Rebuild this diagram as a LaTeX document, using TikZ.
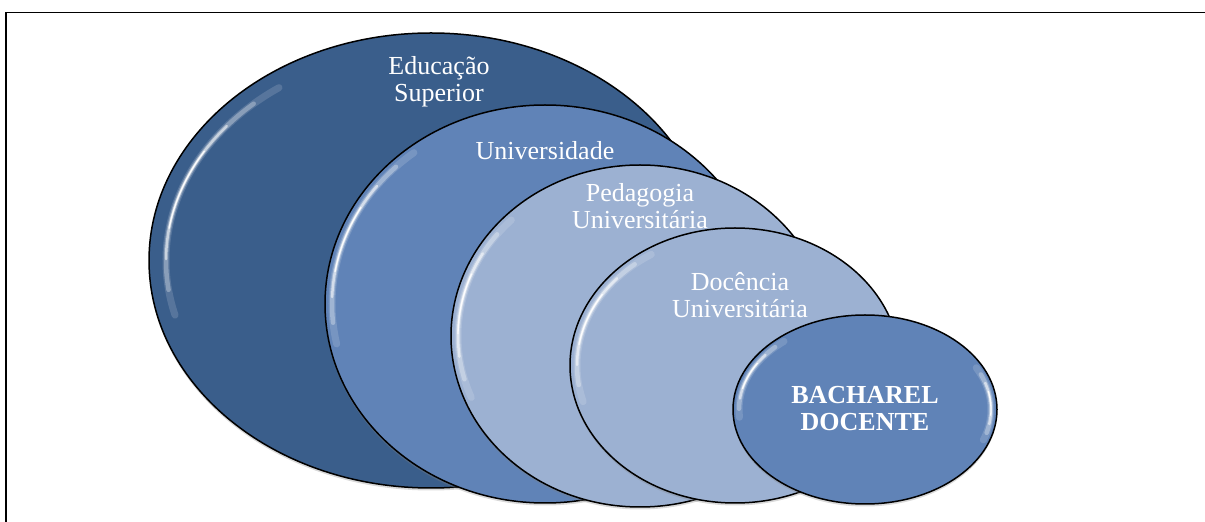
\documentclass[tikz,border=0pt]{standalone}
\usepackage{fontspec}
\setmainfont{Liberation Serif}
\usetikzlibrary{shapes.geometric,shadows,calc}

\definecolor{azulEsc}{HTML}{3A5E8B}
\definecolor{azulMed}{HTML}{6083B7}
\definecolor{azulCla}{HTML}{9CB1D2}

% brilho: node, raio x, raio y, angulo inicial, angulo final
\newcommand{\brilho}[5]{%
  \foreach \f/\w/\o in {0/7/.15, .1/4.5/.3, .22/2.5/.55, .34/1.3/.95}{%
    \pgfmathsetmacro{\ini}{(#4)+\f*((#5)-(#4))}%
    \pgfmathsetmacro{\fim}{(#5)-\f*((#5)-(#4))}%
    \draw[white, line width=\w pt, opacity=\o, line cap=round]
      ($(#1.center)+(\ini:#2pt and #3pt)$) arc[start angle=\ini, end angle=\fim, x radius=#2pt, y radius=#3pt];
  }%
}

\begin{document}
\begin{tikzpicture}[
                x=1pt, y=1pt,
                camada/.style={draw=black, line width=1.5pt, ellipse, inner sep=0pt,
                  drop shadow={opacity=.3, shadow xshift=0pt, shadow yshift=-2.5pt}},
                rotulo/.style={text=white, font=\fontsize{26}{27}\selectfont, align=center, anchor=base, inner sep=0pt}
            ]
            \clip (0,0) rectangle (1205,522);

            % Moldura
            \draw[line width=1.6pt] (6,-10) |- (1215,509.5);

            % Camadas
            \node[camada, fill=azulEsc, minimum width=564pt, minimum height=455pt] (edu) at (431,261.5) {};
            \brilho{edu}{265}{211}{125}{195}
            \node[rotulo] (tEdu) at (439,420) {Educação\\Superior};

            \node[camada, fill=azulMed, minimum width=440pt, minimum height=398pt] (uni) at (545,218) {};
            \brilho{uni}{213}{192}{128}{192}
            \node[rotulo] (tUni) at (545,362) {Universidade};

            \node[camada, fill=azulCla, minimum width=378pt, minimum height=342pt] (ped) at (640,186) {};
            \brilho{ped}{182}{164}{135}{202}
            \node[rotulo] (tPed) at (640,293) {Pedagogia\\Universitária};

            \node[camada, fill=azulCla, minimum width=330pt, minimum height=275pt] (doc) at (735,156.5) {};
            \brilho{doc}{158}{131}{122}{196}
            \node[rotulo] (tDoc) at (740,204) {Docência\\Universitária};

            \node[camada, fill=azulMed, minimum width=264pt, minimum height=189pt] (bach) at (865,112.5) {};
            \brilho{bach}{126}{89}{130}{185}
            \brilho{bach}{126}{89}{-20}{28}
            \node[rotulo, font=\fontsize{26}{27}\selectfont\bfseries] (tBach) at (865,91) {BACHAREL\\DOCENTE};

            \end{tikzpicture}
\end{document}
